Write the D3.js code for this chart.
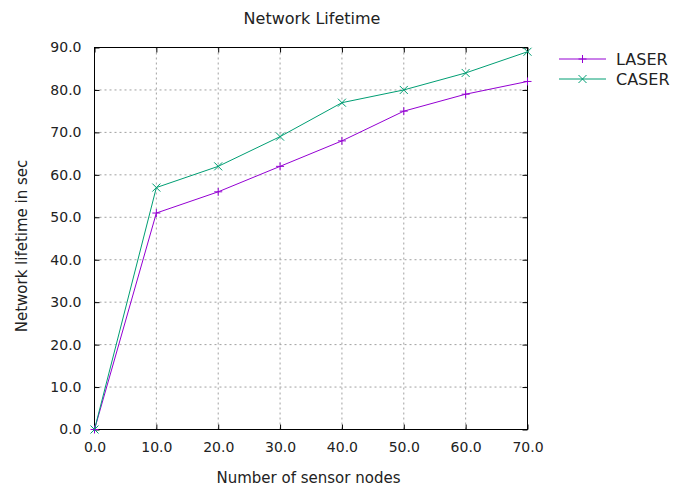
<!DOCTYPE html>
<html lang="en">
<head>
<meta charset="utf-8">
<title>Network Lifetime</title>
<script src="https://d3js.org/d3.v7.min.js"></script>
<style>
  html, body { margin: 0; padding: 0; background: #fff; }
  text { font-family: "DejaVu Sans", sans-serif; fill: #222; }
</style>
</head>
<body>
<script>
// chart data
var nodes = [0, 10, 20, 30, 40, 50, 60, 70];
var laser = [0, 51, 56, 62, 68, 75, 79, 82];
var caser = [0, 57, 62, 69, 77, 80, 84, 89];
var xTicks = [0, 10, 20, 30, 40, 50, 60, 70];
var yTicks = [0, 10, 20, 30, 40, 50, 60, 70, 80, 90];

var W = 687, H = 488;
var m = {left: 94.5, right: 159.5, top: 47.5, bottom: 58.5};

var svg = d3.select("body").append("svg")
    .attr("width", W)
    .attr("height", H);

var x = d3.scaleLinear().domain([0, 70]).range([m.left, W - m.right]);
var y = d3.scaleLinear().domain([0, 90]).range([H - m.bottom, m.top]);

// grid
svg.append("g").selectAll("line.gx")
    .data(xTicks.slice(1, -1)).enter().append("line")
    .attr("x1", function(d){ return x(d); }).attr("x2", function(d){ return x(d); })
    .attr("y1", y(0)).attr("y2", y(90))
    .attr("stroke", "#a0a0a0").attr("stroke-width", 1).attr("stroke-dasharray", "2,3");
svg.append("g").selectAll("line.gy")
    .data(yTicks.slice(1, -1)).enter().append("line")
    .attr("y1", function(d){ return y(d); }).attr("y2", function(d){ return y(d); })
    .attr("x1", x(0)).attr("x2", x(70))
    .attr("stroke", "#a0a0a0").attr("stroke-width", 1).attr("stroke-dasharray", "2,3");

// axes (gnuplot style, ticks inward, mirrored)
var tick = 5;
var axBottom = svg.append("g").attr("transform", "translate(0," + y(0) + ")")
    .call(d3.axisBottom(x).tickValues(xTicks).tickSize(-tick).tickPadding(13)
        .tickFormat(d3.format(".1f")));
var axLeft = svg.append("g").attr("transform", "translate(" + x(0) + ",0)")
    .call(d3.axisLeft(y).tickValues(yTicks).tickSize(-tick).tickPadding(13)
        .tickFormat(d3.format(".1f")));
var axTop = svg.append("g").attr("transform", "translate(0," + y(90) + ")")
    .call(d3.axisTop(x).tickValues(xTicks).tickSize(-tick).tickFormat(""));
var axRight = svg.append("g").attr("transform", "translate(" + x(70) + ",0)")
    .call(d3.axisRight(y).tickValues(yTicks).tickSize(-tick).tickFormat(""));

[axBottom, axLeft, axTop, axRight].forEach(function(g){
  g.select(".domain").remove();
  g.selectAll("line").attr("stroke", "#000");
  g.selectAll("text").style("font-family", "'DejaVu Sans', sans-serif")
    .style("font-size", "14px").attr("fill", "#222");
});

svg.append("rect")
    .attr("x", x(0)).attr("y", y(90))
    .attr("width", x(70) - x(0)).attr("height", y(0) - y(90))
    .attr("fill", "none").attr("stroke", "#000").attr("stroke-width", 1);

// series
var series = [
  {name: "LASER", values: laser, color: "#9400d3", mark: "plus"},
  {name: "CASER", values: caser, color: "#009e73", mark: "cross"}
];

var line = d3.line()
    .x(function(d, i){ return x(nodes[i]); })
    .y(function(d){ return y(d); });

function drawMark(g, cx, cy, kind, color) {
  var s = 4;
  if (kind === "plus") {
    g.append("line").attr("x1", cx - s).attr("x2", cx + s).attr("y1", cy).attr("y2", cy)
      .attr("stroke", color);
    g.append("line").attr("x1", cx).attr("x2", cx).attr("y1", cy - s).attr("y2", cy + s)
      .attr("stroke", color);
  } else {
    g.append("line").attr("x1", cx - s).attr("x2", cx + s).attr("y1", cy - s).attr("y2", cy + s)
      .attr("stroke", color);
    g.append("line").attr("x1", cx - s).attr("x2", cx + s).attr("y1", cy + s).attr("y2", cy - s)
      .attr("stroke", color);
  }
}

series.forEach(function(s){
  svg.append("path").datum(s.values)
      .attr("d", line)
      .attr("fill", "none")
      .attr("stroke", s.color)
      .attr("stroke-width", 1);
  var g = svg.append("g");
  s.values.forEach(function(v, i){
    drawMark(g, x(nodes[i]), y(v), s.mark, s.color);
  });
});

// legend
var leg = svg.append("g");
series.forEach(function(s, i){
  var ly = 59 + i * 20;
  leg.append("line").attr("x1", 559).attr("x2", 606).attr("y1", ly).attr("y2", ly)
      .attr("stroke", s.color).attr("stroke-width", 1);
  drawMark(leg, 582.5, ly, s.mark, s.color);
  leg.append("text").attr("x", 616).attr("y", ly + 5.5)
      .style("font-size", "16px").text(s.name);
});

// titles
svg.append("text").attr("x", 312).attr("y", 23.5).attr("text-anchor", "middle")
    .style("font-size", "16px").text("Network Lifetime");
svg.append("text").attr("x", 308.5).attr("y", 483).attr("text-anchor", "middle")
    .style("font-size", "15px").text("Number of sensor nodes");
svg.append("text").attr("transform", "translate(27," + 246 + ") rotate(-90)")
    .attr("text-anchor", "middle")
    .style("font-size", "15px").text("Network lifetime in sec");
</script>
</body>
</html>
